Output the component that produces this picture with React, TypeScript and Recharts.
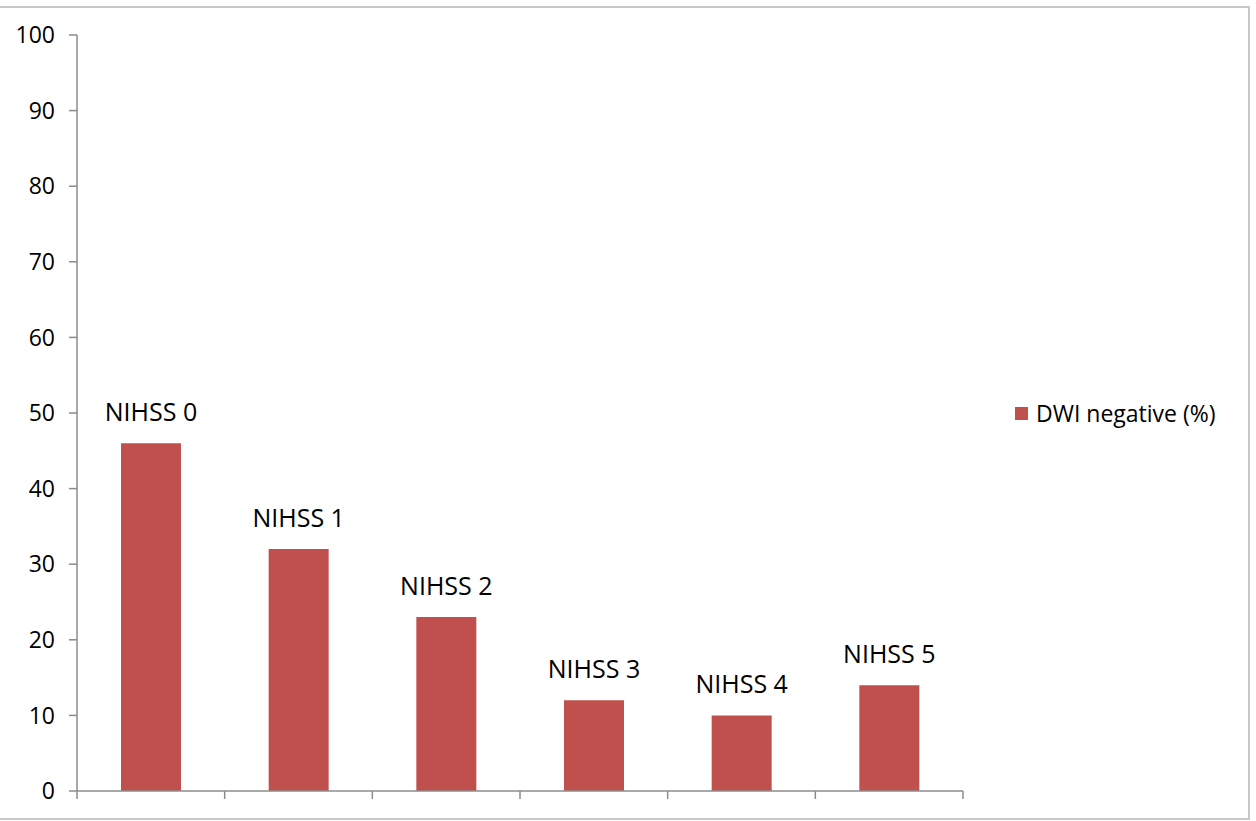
import { BarChart, Bar, XAxis, YAxis, Legend, LabelList } from 'recharts';

const categories = ['NIHSS 0', 'NIHSS 1', 'NIHSS 2', 'NIHSS 3', 'NIHSS 4', 'NIHSS 5'];
const dwiNegative = [46, 32, 23, 12, 10, 14];
const yTicks = [0, 10, 20, 30, 40, 50, 60, 70, 80, 90, 100];
const boundaryTicks = [0, 1, 2, 3, 4, 5, 6];

const data = categories.map((name, i) => ({ name, pos: i + 0.5, dwi: dwiNegative[i] }));

const FONT = '"Open Sans", "Liberation Sans", sans-serif';
const AXIS = '#8c8c8c';
const BAR = '#C0504D';

function LegendBox() {
  return (
    <div style={{ display: 'flex', alignItems: 'center', fontFamily: FONT, fontSize: 23, color: '#000', lineHeight: '26px' }}>
      <span style={{ display: 'inline-block', width: 13, height: 13, background: BAR, marginRight: 8 }} />
      <span>DWI negative (%)</span>
    </div>
  );
}

export default function App() {
  return (
    <div style={{ position: 'absolute', left: 0, top: 0, width: 1256, height: 821, background: '#fff' }}>
      <div
        style={{
          position: 'absolute',
          left: 0,
          top: 6,
          width: 1250,
          height: 814,
          borderTop: '2px solid #c8c8c8',
          borderRight: '2px solid #c8c8c8',
          borderBottom: '2px solid #c8c8c8',
          boxSizing: 'border-box',
        }}
      />
      <BarChart
        width={1256}
        height={821}
        data={data}
        margin={{ top: 35, right: 293, bottom: 22, left: 0 }}
        barSize={60}
        style={{ position: 'absolute', left: 0, top: 0 }}
      >
        <XAxis dataKey="name" xAxisId="cat" hide height={0} />
        <XAxis
          xAxisId="grid"
          type="number"
          dataKey="pos"
          domain={[0, 6]}
          ticks={boundaryTicks}
          tickFormatter={() => ''}
          tickSize={8}
          height={8}
          stroke={AXIS}
          strokeWidth={1.5}
        />
        <YAxis
          domain={[0, 100]}
          ticks={yTicks}
          width={77}
          tickSize={8}
          tickMargin={14}
          stroke={AXIS}
          strokeWidth={1.5}
          tick={{ fontSize: 23, fill: '#000', fontFamily: FONT }}
        />
        <Legend
          layout="horizontal"
          verticalAlign="middle"
          align="center"
          content={() => <LegendBox />}
          wrapperStyle={{ left: 1015, top: 400, width: 235 }}
        />
        <Bar dataKey="dwi" xAxisId="cat" fill={BAR} isAnimationActive={false}>
          <LabelList dataKey="name" position="top" offset={22} fill="#000" fontSize={25} fontFamily={FONT} />
        </Bar>
      </BarChart>
    </div>
  );
}
